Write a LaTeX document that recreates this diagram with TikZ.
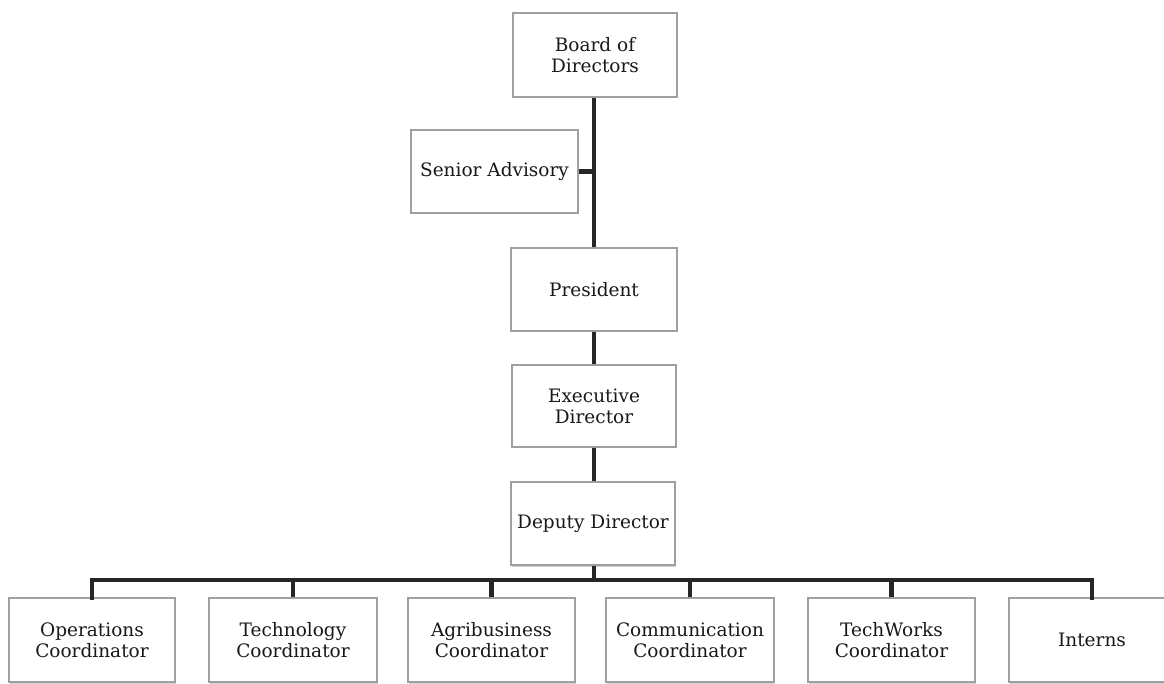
\documentclass[tikz,border=0pt]{standalone}
\usepackage{fontspec}
\setmainfont{DejaVu Serif}
\usetikzlibrary{shadows}
\begin{document}
\begin{tikzpicture}[x=1pt,y=1pt,
  box/.style={draw=gray!75, line width=1.3pt, fill=white, align=center,
    font=\fontsize{18.5}{21}\selectfont, text=black!90,
    drop shadow={opacity=0.35, shadow xshift=1pt, shadow yshift=-1.5pt}},
  link/.style={draw=black!85, line width=4.5pt}]
\useasboundingbox (0,0) rectangle (1164,683);
\fill[white] (0,0) rectangle (1164,683);
% top chain (y flipped: Y = 683 - y)
\node[box, minimum width=164pt, minimum height=84pt] (board) at (595,628) {Board of\\Directors};
\node[box, minimum width=167pt, minimum height=83pt] (senior) at (494.5,511.5) {Senior Advisory};
\node[box, minimum width=166pt, minimum height=83pt] (pres) at (594,393.5) {President};
\node[box, minimum width=164pt, minimum height=82pt] (exec) at (594,277) {Executive\\Director};
\node[box, minimum width=164pt, minimum height=83pt] (dep) at (593,159.5) {Deputy Director};
% bottom row
\node[box, minimum width=166pt, minimum height=84pt] (ops) at (92,43) {Operations\\Coordinator};
\node[box, minimum width=168pt, minimum height=84pt] (tech) at (293,43) {Technology\\Coordinator};
\node[box, minimum width=167pt, minimum height=84pt] (agri) at (491.5,43) {Agribusiness\\Coordinator};
\node[box, minimum width=168pt, minimum height=84pt] (comm) at (690,43) {Communication\\Coordinator};
\node[box, minimum width=167pt, minimum height=84pt] (tw) at (891.5,43) {TechWorks\\Coordinator};
\node[box, minimum width=166pt, minimum height=84pt] (int) at (1092,43) {Interns};
% connectors
\coordinate (spine) at (594,0);
\coordinate (bar) at (594,103);
\draw[link] (board.south -| spine) -- (pres.north -| spine);
\draw[link] (senior.east) -- (senior.east -| spine);
\draw[link] (pres.south -| spine) -- (exec.north -| spine);
\draw[link] (exec.south -| spine) -- (dep.north -| spine);
\draw[link] (dep.south -| spine) -- (bar);
\draw[link, line cap=rect] (ops.north) |- (bar) -| (int.north);
\draw[link] (tech.north) -- (tech.north |- bar);
\draw[link] (agri.north) -- (agri.north |- bar);
\draw[link] (comm.north) -- (comm.north |- bar);
\draw[link] (tw.north) -- (tw.north |- bar);
\end{tikzpicture}
\end{document}
